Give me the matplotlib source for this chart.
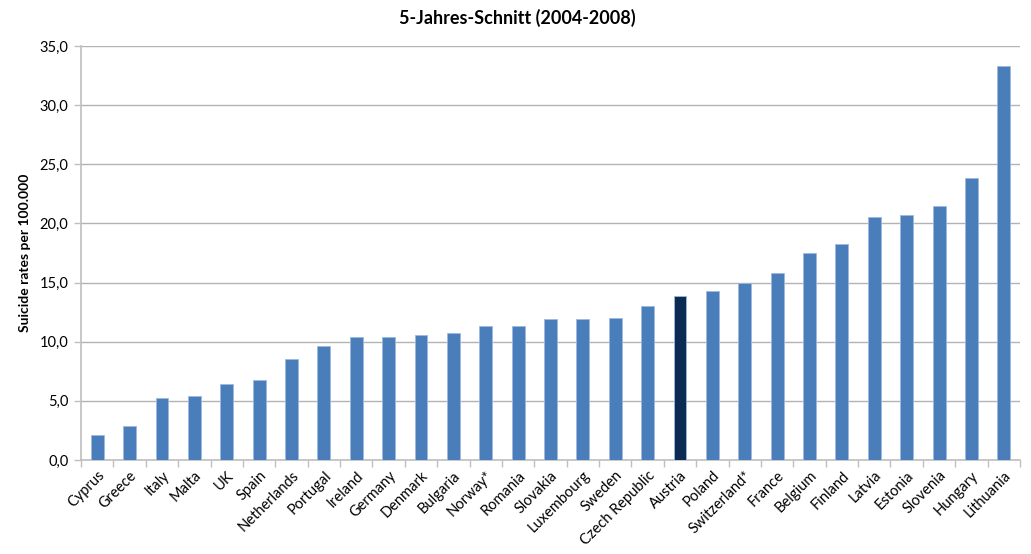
import numpy as np
import matplotlib
matplotlib.use("Agg")
import matplotlib.pyplot as plt
from matplotlib.ticker import FuncFormatter, MultipleLocator

BAR_COLOR = "#4A7EBB"
HIGHLIGHT_COLOR = "#0B2B52"
EDGE_COLOR = "#9DB9DE"
GRID_COLOR = "#B3B3B3"
AXIS_COLOR = "#BFBFBF"

countries = ["Cyprus", "Greece", "Italy", "Malta", "UK", "Spain", "Netherlands",
             "Portugal", "Ireland", "Germany", "Denmark", "Bulgaria", "Norway*",
             "Romania", "Slovakia", "Luxembourg", "Sweden", "Czech Republic",
             "Austria", "Poland", "Switzerland*", "France", "Belgium", "Finland",
             "Latvia", "Estonia", "Slovenia", "Hungary", "Lithuania"]
rates = [2.1, 2.9, 5.2, 5.4, 6.4, 6.8, 8.5, 9.6, 10.4, 10.4, 10.6, 10.7, 11.3,
         11.3, 11.9, 11.9, 12.0, 13.0, 13.9, 14.3, 15.0, 15.8, 17.5, 18.3,
         20.5, 20.7, 21.5, 23.8, 33.3]
highlight = "Austria"

plt.rcParams['font.family'] = ['Lato', 'DejaVu Sans']

fig = plt.figure(figsize=(10.31, 5.54), dpi=100)
ax = fig.add_axes([0.0786, 0.1697, 0.9107, 0.7473])

x = np.arange(len(countries))
colors = [HIGHLIGHT_COLOR if c == highlight else BAR_COLOR for c in countries]
ax.bar(x, rates, width=0.4, color=colors, edgecolor=EDGE_COLOR, linewidth=0.6, zorder=3)

ax.set_xlim(-0.5, len(countries) - 0.5)
ax.set_ylim(0, 35)
ax.yaxis.set_major_locator(MultipleLocator(5))
ax.yaxis.set_major_formatter(FuncFormatter(lambda v, p: f"{v:.1f}".replace(".", ",")))
ax.grid(axis="y", color=GRID_COLOR, linewidth=1, zorder=0)

ax.set_xticks(x)
ax.set_xticklabels(countries, rotation=45, ha="right", rotation_mode="anchor", fontsize=10.5)
ax.set_xticks(np.arange(-0.5, len(countries), 1), minor=True)
ax.tick_params(axis="x", which="major", length=0, pad=6)
ax.tick_params(axis="x", which="minor", length=5, color=AXIS_COLOR, width=1)
ax.tick_params(axis="y", length=5, color=AXIS_COLOR, width=1, labelsize=10.5, pad=4)

for side in ["top", "right"]:
    ax.spines[side].set_visible(False)
for side in ["left", "bottom"]:
    ax.spines[side].set_color(AXIS_COLOR)
    ax.spines[side].set_linewidth(1.2)

ax.set_ylabel("Suicide rates per 100.000", fontsize=10, fontweight="bold", labelpad=6)
fig.text(0.502, 0.968, "5-Jahres-Schnitt (2004-2008)", ha="center", va="center",
         fontsize=13, fontweight="bold")

fig.savefig("out.png", dpi=100)
